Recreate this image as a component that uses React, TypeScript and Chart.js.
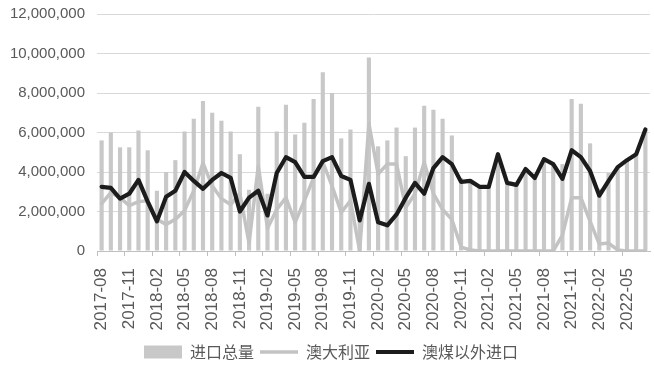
import React, { useEffect, useRef } from "react";
import { Chart, registerables } from "chart.js";

Chart.register(...registerables);

const months = [
  "2017-08", "2017-09", "2017-10", "2017-11", "2017-12",
  "2018-01", "2018-02", "2018-03", "2018-04", "2018-05", "2018-06", "2018-07", "2018-08", "2018-09", "2018-10", "2018-11", "2018-12",
  "2019-01", "2019-02", "2019-03", "2019-04", "2019-05", "2019-06", "2019-07", "2019-08", "2019-09", "2019-10", "2019-11", "2019-12",
  "2020-01", "2020-02", "2020-03", "2020-04", "2020-05", "2020-06", "2020-07", "2020-08", "2020-09", "2020-10", "2020-11", "2020-12",
  "2021-01", "2021-02", "2021-03", "2021-04", "2021-05", "2021-06", "2021-07", "2021-08", "2021-09", "2021-10", "2021-11", "2021-12",
  "2022-01", "2022-02", "2022-03", "2022-04", "2022-05", "2022-06", "2022-07",
];

// 进口总量 (tonnes)
const totalImports = [
  5600000, 6000000, 5250000, 5250000, 6100000,
  5100000, 3050000, 4000000, 4600000, 6050000, 6700000, 7600000, 7000000, 6600000, 6050000, 4900000, 3100000,
  7300000, 2900000, 6050000, 7400000, 5900000, 6500000, 7700000, 9050000, 8000000, 5700000, 6150000, 1600000,
  9800000, 5300000, 5600000, 6250000, 4800000, 6250000, 7350000, 7150000, 6700000, 5850000, 3700000, 3600000,
  3250000, 3250000, 4900000, 3450000, 3350000, 4150000, 3700000, 4650000, 4400000, 4400000, 7700000, 7450000,
  5450000, 3150000, 3950000, 4300000, 4600000, 4900000, 6150000,
];

// 澳大利亚
const australia = [
  2400000, 2950000, 2700000, 2300000, 2500000,
  2550000, 1600000, 1350000, 1600000, 2050000, 3050000, 4450000, 3300000, 2650000, 2350000, 2900000, 400000,
  4300000, 1150000, 2100000, 2700000, 1450000, 2550000, 3700000, 4500000, 3300000, 1950000, 2550000, 0,
  6450000, 3900000, 4400000, 4400000, 2200000, 2900000, 4500000, 2900000, 2100000, 1600000, 200000, 50000,
  0, 0, 0, 0, 0, 0, 0, 0, 0, 800000, 2700000, 2700000,
  1500000, 350000, 400000, 50000, 0, 0, 0,
];

// 澳煤以外进口
const nonAustralia = [
  3250000, 3200000, 2650000, 2900000, 3600000,
  2500000, 1500000, 2750000, 3050000, 4000000, 3550000, 3150000, 3600000, 3950000, 3700000, 2000000, 2700000,
  3050000, 1800000, 3950000, 4750000, 4500000, 3750000, 3750000, 4550000, 4750000, 3800000, 3600000, 1550000,
  3400000, 1450000, 1300000, 1850000, 2700000, 3450000, 2900000, 4200000, 4750000, 4400000, 3500000, 3550000,
  3250000, 3250000, 4900000, 3450000, 3350000, 4150000, 3700000, 4650000, 4400000, 3650000, 5100000, 4750000,
  4050000, 2800000, 3550000, 4250000, 4600000, 4900000, 6150000,
];

const seriesNames = ["进口总量", "澳大利亚", "澳煤以外进口"];
const yTicks = [0, 2000000, 4000000, 6000000, 8000000, 10000000, 12000000];

const BAR_COLOR = "#c8c8c8";
const AUS_COLOR = "#c3c3c3";
const BLACK_COLOR = "#1c1c1c";
const TEXT_COLOR = "#595959";

const legendShift = {
  id: "legendShift",
  afterLayout(chart: any) {
    if (chart.legend) {
      chart.legend.left += 6;
      chart.legend.right += 6;
      chart.legend.top += 3;
      chart.legend.bottom += 3;
    }
  },
};

export default function App() {
  const canvasRef = useRef<HTMLCanvasElement | null>(null);

  useEffect(() => {
    const canvas = canvasRef.current;
    if (!canvas) return;
    const chart = new Chart(canvas, {
      type: "bar",
      data: {
        labels: months,
        datasets: [
          {
            type: "bar",
            label: seriesNames[0],
            data: totalImports,
            backgroundColor: BAR_COLOR,
            borderWidth: 0,
            categoryPercentage: 1,
            barPercentage: 0.45,
            order: 3,
          },
          {
            type: "line",
            label: seriesNames[1],
            data: australia,
            borderColor: AUS_COLOR,
            backgroundColor: AUS_COLOR,
            borderWidth: 3.5,
            pointRadius: 0,
            tension: 0,
            borderJoinStyle: "round",
            borderCapStyle: "round",
            order: 2,
          },
          {
            type: "line",
            label: seriesNames[2],
            data: nonAustralia,
            borderColor: BLACK_COLOR,
            backgroundColor: BLACK_COLOR,
            borderWidth: 4.2,
            pointRadius: 0,
            tension: 0,
            borderJoinStyle: "round",
            borderCapStyle: "round",
            order: 1,
          },
        ],
      },
      plugins: [legendShift],
      options: {
        animation: false,
        responsive: false,
        maintainAspectRatio: false,
        layout: { padding: { top: 14, right: 4, left: 0, bottom: 4 } },
        plugins: {
          tooltip: { enabled: false },
          legend: {
            position: "bottom",
            labels: {
              usePointStyle: true,
              pointStyleWidth: 38,
              boxHeight: 13,
              padding: 6,
              color: TEXT_COLOR,
              font: { family: "'Noto Sans CJK SC', sans-serif", size: 16 },
              generateLabels: (c: any) =>
                c.data.datasets.map((ds: any, i: number) => ({
                  text: ds.label,
                  fillStyle: ds.type === "bar" ? BAR_COLOR : ds.borderColor,
                  strokeStyle: ds.type === "bar" ? BAR_COLOR : ds.borderColor,
                  lineWidth: ds.type === "bar" ? 0 : ds.borderWidth,
                  pointStyle: ds.type === "bar" ? "rect" : "line",
                  fontColor: TEXT_COLOR,
                  hidden: false,
                  datasetIndex: i,
                })),
            },
          },
        },
        scales: {
          x: {
            offset: true,
            grid: {
              offset: true,
              drawOnChartArea: false,
              drawTicks: true,
              tickLength: 5,
              color: (ctx: any) => (ctx.index % 3 === 0 ? "#bfbfbf" : "rgba(0,0,0,0)"),
            },
            border: { display: true, color: "#bfbfbf", width: 1 },
            ticks: {
              autoSkip: false,
              maxRotation: 90,
              minRotation: 90,
              padding: 12,
              color: TEXT_COLOR,
              font: { family: "'Liberation Sans', Arial, sans-serif", size: 17 },
              callback: (_v: any, i: number) => (i % 3 === 0 ? months[i] : ""),
            },
            afterFit: (scale: any) => {
              scale.height = 84;
              scale.paddingLeft = 0;
              scale.paddingRight = 0;
            },
          },
          y: {
            min: 0,
            max: 12000000,
            afterBuildTicks: (scale: any) => {
              scale.ticks = yTicks.map((v) => ({ value: v }));
            },
            grid: { color: "#d9d9d9", drawTicks: false, lineWidth: 1 },
            border: { display: false },
            ticks: {
              padding: 12,
              color: TEXT_COLOR,
              font: { family: "'Liberation Sans', Arial, sans-serif", size: 15 },
              callback: (v: any) => Number(v).toLocaleString("en-US"),
            },
            afterFit: (scale: any) => {
              scale.width = 97;
              scale.paddingTop = 0;
              scale.paddingBottom = 0;
            },
          },
        },
      },
    });
    return () => chart.destroy();
  }, []);

  return (
    <div style={{ position: "absolute", left: 0, top: 0, width: 654, height: 371, background: "#fff" }}>
      <canvas ref={canvasRef} width={654} height={371} style={{ display: "block" }} />
    </div>
  );
}
